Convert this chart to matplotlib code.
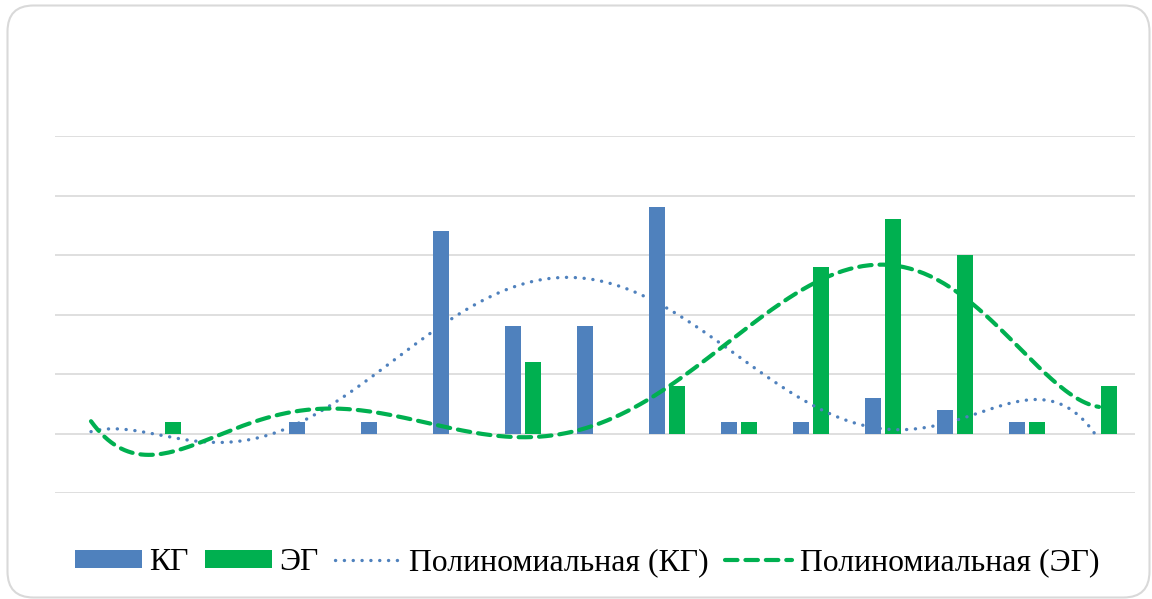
import numpy as np
import matplotlib
matplotlib.use('Agg')
import matplotlib.pyplot as plt
from matplotlib.patches import FancyBboxPatch

# values (15 groups, no labels on the axis)
groups = np.arange(1, 16)
kg = [0, 0, 0, 1, 1, 17, 9, 9, 19, 1, 1, 3, 2, 1, 0]
eg = [0, 1, 0, 0, 0, 0, 6, 0, 4, 1, 14, 18, 15, 1, 4]
series_names = ['КГ', 'ЭГ', 'Полиномиальная (КГ)', 'Полиномиальная (ЭГ)']

blue = '#4F81BD'
green = '#00B050'

plt.rcParams['font.family'] = ['Liberation Serif', 'DejaVu Serif']

fig = plt.figure(figsize=(11.52, 5.99), dpi=100)
ax = fig.add_axes([55/1152, 1-493/599, 1080/1152, 357/599])

w = 0.226
off = 0.143
b1 = ax.bar(groups - off, kg, w, color=blue, linewidth=0, label=series_names[0], zorder=2)
b2 = ax.bar(groups + off, eg, w, color=green, linewidth=0, label=series_names[1], zorder=2)

# polynomial trend lines, order 6, like the Excel ones
xs = np.linspace(1, 15, 300)
pk = np.polyfit(groups, kg, 6)
pe = np.polyfit(groups, eg, 6)
l1, = ax.plot(xs, np.polyval(pk, xs), color=blue, lw=2.4, linestyle=(0, (0.05, 2.6)),
              dash_capstyle='round', label=series_names[2], zorder=3)
l2, = ax.plot(xs, np.polyval(pe, xs), color=green, lw=3.0, linestyle=(0, (3.0, 1.9)),
              dash_capstyle='round', label=series_names[3], zorder=3)

ax.set_xlim(0.5, 15.5)
ax.set_ylim(-5, 25)
ax.set_yticks(np.arange(-5, 26, 5))
ax.yaxis.grid(True, color='#D9D9D9', lw=1.2)
ax.set_axisbelow(True)
ax.tick_params(left=False, bottom=False, labelleft=False, labelbottom=False)
for s in ax.spines.values():
    s.set_visible(False)

fig.legend([b1, b2, l1, l2], series_names, loc='center', bbox_to_anchor=(587/1152, 1-563/599),
           ncol=4, frameon=False, fontsize=22.9, handlelength=2.1, handleheight=0.5,
           handletextpad=0.25, columnspacing=0.5, borderpad=0)

# rounded chart border
fig.patches.append(FancyBboxPatch((7.5, 1.5), 1142, 592, boxstyle='round,pad=0,rounding_size=26',
                                  transform=None, fill=False, edgecolor='#D9D9D9', lw=1.5))

fig.savefig('out.png', dpi=100)
